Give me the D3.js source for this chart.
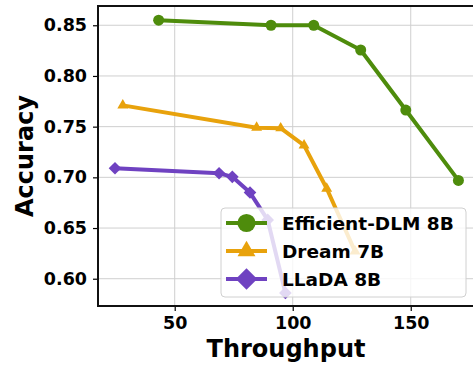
<!DOCTYPE html>
<html lang="en">
<head>
<meta charset="UTF-8">
<style>
  body { margin: 0; background: #fff; }
  svg { display: block; }
  text { font-family: "DejaVu Sans", sans-serif; font-weight: bold; fill: #000; }
</style>
</head>
<body>
<svg id="svg" width="473" height="365"></svg>
<script src="https://d3js.org/d3.v7.min.js"></script>
<script>
// throughput / accuracy
const effX = [43.2, 90.8, 108.9, 128.8, 147.9, 170.2]
const effY = [0.855, 0.850, 0.850, 0.8256, 0.7664, 0.697]
const dreamX = [28.0, 84.7, 94.9, 104.8, 114.4, 126.4]
const dreamY = [0.771, 0.749, 0.7485, 0.7315, 0.689, 0.627]
const lladaX = [24.7, 68.8, 74.4, 81.9, 89.4, 96.9]
const lladaY = [0.709, 0.704, 0.7005, 0.685, 0.658, 0.586]

const xTicks = [50, 100, 150]
const yTicks = [0.60, 0.65, 0.70, 0.75, 0.80, 0.85]

const series = [
  { name: 'Efficient-DLM 8B', xs: effX, ys: effY, color: '#4e8c0c', marker: 'circle' },
  { name: 'Dream 7B', xs: dreamX, ys: dreamY, color: '#e8a20c', marker: 'triangle' },
  { name: 'LLaDA 8B', xs: lladaX, ys: lladaY, color: '#6f42c1', marker: 'diamond' }
]

const margin = { top: 6, right: -1, bottom: 59, left: 98 }
const W = 473, H = 365
const svg = d3.select('#svg')

const x = d3.scaleLinear().domain([17.5, 176.8]).range([margin.left, W - margin.right])
const y = d3.scaleLinear().domain([0.5731, 0.869]).range([H - margin.bottom, margin.top])

// grid
const grid = svg.append('g')
grid.selectAll('.gx').data(xTicks).enter().append('line')
  .attr('x1', d => x(d)).attr('x2', d => x(d))
  .attr('y1', y.range()[0]).attr('y2', y.range()[1])
  .attr('stroke', '#cfcfcf').attr('stroke-width', 1)
grid.selectAll('.gy').data(yTicks).enter().append('line')
  .attr('y1', d => y(d)).attr('y2', d => y(d))
  .attr('x1', x.range()[0]).attr('x2', x.range()[1])
  .attr('stroke', '#cfcfcf').attr('stroke-width', 1)

function symbolFor(m, size) {
  const t = m === 'circle' ? d3.symbolCircle : m === 'triangle' ? d3.symbolTriangle2 : d3.symbolSquare
  return d3.symbol().type(t).size(size)()
}

// lines + markers
series.forEach(s => {
  const pts = s.xs.map((v, i) => [v, s.ys[i]])
  svg.append('path')
    .attr('d', d3.line().x(d => x(d[0])).y(d => y(d[1]))(pts))
    .attr('fill', 'none').attr('stroke', s.color).attr('stroke-width', 4)
    .attr('stroke-linejoin', 'round')
  svg.append('g').selectAll('path').data(pts).enter().append('path')
    .attr('d', symbolFor(s.marker, s.marker === 'circle' ? 95 : s.marker === 'triangle' ? 85 : 80))
    .attr('transform', d => `translate(${x(d[0])},${y(d[1])})` + (s.marker === 'diamond' ? ' rotate(45)' : ''))
    .attr('fill', s.color)
})

// legend
const leg = svg.append('g').attr('transform', 'translate(221,208)')
leg.append('rect')
  .attr('width', 245).attr('height', 89).attr('rx', 4)
  .attr('fill', 'rgba(255,255,255,0.8)').attr('stroke', '#d0d0d0').attr('stroke-width', 1)
series.forEach((s, i) => {
  const cy = 15 + i * 28
  leg.append('line').attr('x1', 5).attr('x2', 46).attr('y1', cy).attr('y2', cy)
    .attr('stroke', s.color).attr('stroke-width', 4)
  leg.append('path')
    .attr('d', symbolFor(s.marker, s.marker === 'circle' ? 260 : s.marker === 'triangle' ? 230 : 230))
    .attr('transform', `translate(25.5,${cy})` + (s.marker === 'diamond' ? ' rotate(45)' : ''))
    .attr('fill', s.color)
  leg.append('text').attr('x', 61).attr('y', cy + 7)
    .style('font-size', '18.5px').text(s.name)
})

// axes
const xAxis = svg.append('g')
  .attr('transform', `translate(0,${H - margin.bottom})`)
  .call(d3.axisBottom(x).tickValues(xTicks).tickSize(5).tickPadding(6).tickFormat(d3.format('d')))
const yAxis = svg.append('g')
  .attr('transform', `translate(${margin.left},0)`)
  .call(d3.axisLeft(y).tickValues(yTicks).tickSize(5).tickPadding(6).tickFormat(d3.format('.2f')))
;[xAxis, yAxis].forEach(a => {
  a.select('.domain').remove()
  a.selectAll('.tick line').attr('stroke', '#000').attr('stroke-width', 1.2)
  a.selectAll('.tick text').style('font-size', '17.5px').style('font-family', '"DejaVu Sans", sans-serif')
    .style('font-weight', 'bold').attr('fill', '#000')
})

// spines
svg.append('rect')
  .attr('x', x.range()[0]).attr('y', y.range()[1])
  .attr('width', x.range()[1] - x.range()[0]).attr('height', y.range()[0] - y.range()[1])
  .attr('fill', 'none').attr('stroke', '#111').attr('stroke-width', 2)

// axis labels
svg.append('text').attr('x', (x.range()[0] + x.range()[1]) / 2).attr('y', 357)
  .attr('text-anchor', 'middle').style('font-size', '24px').text('Throughput')
svg.append('text').attr('transform', `translate(33,${(y.range()[0] + y.range()[1]) / 2}) rotate(-90)`)
  .attr('text-anchor', 'middle').style('font-size', '24px').text('Accuracy')
</script>
</body>
</html>
